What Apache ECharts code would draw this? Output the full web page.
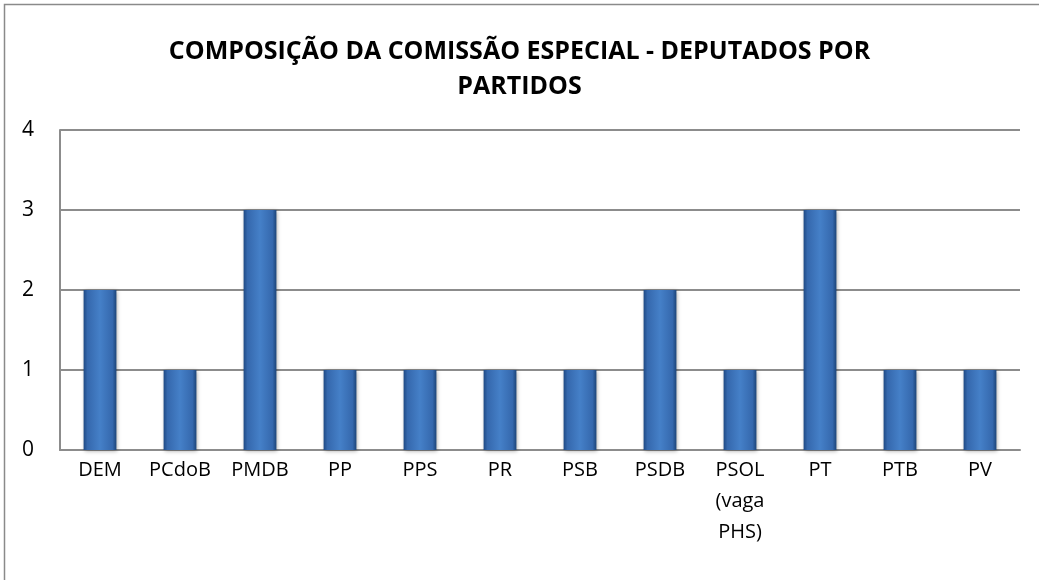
<!DOCTYPE html>
<html><head><meta charset="utf-8">
<script src="https://cdn.jsdelivr.net/npm/echarts@6/dist/echarts.min.js"></script>
<style>html,body{margin:0;padding:0;background:#fff}#c{width:1039px;height:580px}</style>
</head><body><div id="c"></div>
<script>
const titleText = 'COMPOSIÇÃO DA COMISSÃO ESPECIAL - DEPUTADOS POR\nPARTIDOS';
const categories = ['DEM','PCdoB','PMDB','PP','PPS','PR','PSB','PSDB','PSOL\n(vaga\nPHS)','PT','PTB','PV'];
const values = [2,1,3,1,1,1,1,2,1,3,1,1];
const yTicks = [0,1,2,3,4];

const chart = echarts.init(document.getElementById('c'));
const font = '"Open Sans", sans-serif';
chart.setOption({
  backgroundColor: '#fff',
  animation: false,
  graphic: [{type:'rect', shape:{x:4.5,y:4.5,width:1100,height:700}, style:{fill:'none', stroke:'#8a8a8a', lineWidth:1.5}, z:-1}],
  title: {
    text: titleText, left: 'center', top: 29,
    textStyle: {fontFamily: font, fontWeight: 'bold', fontSize: 25, color: '#000', lineHeight: 35}
  },
  grid: {left: 60, right: 19, top: 130, bottom: 130},
  xAxis: {
    type: 'category', data: categories,
    axisLine: {lineStyle: {color: '#8c8c8c', width: 2}},
    axisTick: {show: false},
    axisLabel: {color: '#000', fontFamily: font, fontSize: 20, margin: 5, lineHeight: 31, interval: 0}
  },
  yAxis: {
    type: 'value', min: yTicks[0], max: yTicks[yTicks.length-1], interval: 1,
    axisLine: {show: true, lineStyle: {color: '#8c8c8c', width: 2}},
    axisTick: {show: false},
    splitLine: {lineStyle: {color: '#8c8c8c', width: 2}},
    axisLabel: {color: '#000', fontFamily: font, fontSize: 21, margin: 26}
  },
  series: [{
    type: 'bar', data: values, barWidth: '41%',
    itemStyle: {
      color: new echarts.graphic.LinearGradient(0,0,1,0,[
        {offset:0, color:'#1f4a84'},
        {offset:0.12, color:'#3568ad'},
        {offset:0.5, color:'#4580c8'},
        {offset:0.88, color:'#3568ad'},
        {offset:1, color:'#1c4579'}
      ]),
      shadowColor: 'rgba(0,0,0,0.35)', shadowBlur: 4, shadowOffsetX: 1, shadowOffsetY: 1
    }
  }]
});
</script></body></html>
